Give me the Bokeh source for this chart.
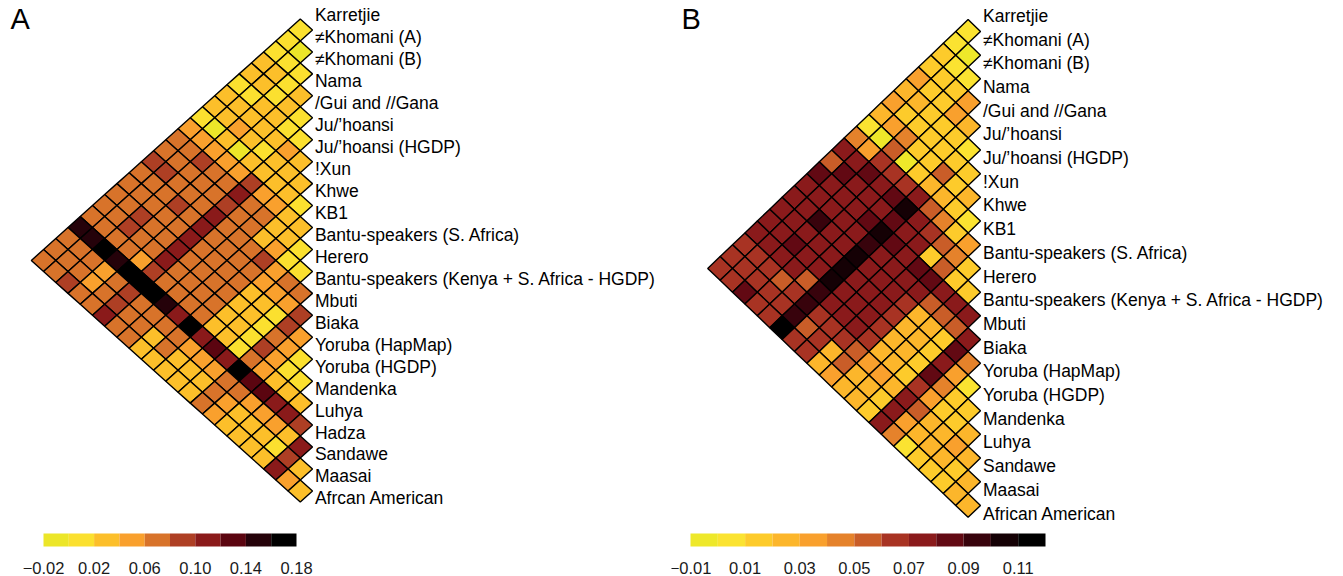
from bokeh.plotting import figure
from bokeh.layouts import row, column
from bokeh.models import Range1d, LinearColorMapper, ColumnDataSource, Label
from bokeh.core.properties import value
from bokeh.embed import file_html
from bokeh.resources import INLINE

# ---------------------------------------------------------------- data
pops_a = ["Karretjie", "\u2260Khomani (A)", "\u2260Khomani (B)", "Nama", "/Gui and //Gana",
          "Ju/\u2019hoansi", "Ju/\u2019hoansi (HGDP)", "!Xun", "Khwe", "KB1",
          "Bantu-speakers (S. Africa)", "Herero", "Bantu-speakers (Kenya + S. Africa - HGDP)",
          "Mbuti", "Biaka", "Yoruba (HapMap)", "Yoruba (HGDP)", "Mandenka", "Luhya",
          "Hadza", "Sandawe", "Maasai", "Afrcan American"]

pops_b = ["Karretjie", "\u2260Khomani (A)", "\u2260Khomani (B)", "Nama", "/Gui and //Gana",
          "Ju/\u2019hoansi", "Ju/\u2019hoansi (HGDP)", "!Xun", "Khwe", "KB1",
          "Bantu-speakers (S. Africa)", "Herero", "Bantu-speakers (Kenya + S. Africa - HGDP)",
          "Mbuti", "Biaka", "Yoruba (HapMap)", "Yoruba (HGDP)", "Mandenka", "Luhya",
          "Sandawe", "Maasai", "African American"]

# pairwise values, row i holds population i against populations 0..i-1
vals_a = [
    [0.01],
    [0.01, -0.01],
    [0.01, 0.01, 0.01],
    [0.03, 0.03, 0.01, 0.03],
    [0.03, 0.03, 0.01, 0.03, 0.01],
    [0.01, 0.01, 0.03, 0.03, 0.01, 0.01],
    [0.03, 0.03, 0.03, 0.03, 0.03, 0.05, 0.03],
    [0.03, 0.03, 0.05, 0.03, 0.01, 0.03, 0.03, 0.03],
    [0.01, -0.01, 0.03, -0.01, 0.03, 0.03, 0.03, 0.03, 0.01],
    [0.05, 0.05, 0.05, 0.05, 0.05, 0.09, 0.05, 0.05, 0.03, 0.03],
    [0.07, 0.07, 0.09, 0.07, 0.07, 0.11, 0.07, 0.07, 0.03, 0.03, 0.01],
    [0.07, 0.07, 0.07, 0.07, 0.07, 0.09, 0.07, 0.07, 0.03, 0.05, 0.01, 0.01],
    [0.09, 0.09, 0.07, 0.07, 0.07, 0.11, 0.07, 0.07, 0.07, 0.09, 0.05, 0.07, 0.07],
    [0.07, 0.07, 0.07, 0.09, 0.07, 0.11, 0.07, 0.07, 0.07, 0.07, 0.05, 0.05, 0.05, 0.09],
    [0.07, 0.07, 0.07, 0.07, 0.07, 0.11, 0.07, 0.07, 0.07, 0.07, 0.03, 0.03, 0.01, 0.09, 0.05],
    [0.07, 0.07, 0.09, 0.07, 0.07, 0.11, 0.07, 0.07, 0.07, 0.07, 0.03, 0.03, 0.01, 0.07, 0.05, 0.01],
    [0.07, 0.07, 0.09, 0.07, 0.07, 0.11, 0.07, 0.07, 0.07, 0.07, 0.03, 0.03, 0.01, 0.09, 0.05, 0.01, 0.01],
    [0.07, 0.07, 0.07, 0.07, 0.05, 0.09, 0.07, 0.07, 0.07, 0.07, 0.03, 0.03, 0.01, 0.07, 0.05, 0.03, 0.03, 0.03],
    [0.15, 0.15, 0.17, 0.15, 0.17, 0.17, 0.17, 0.15, 0.11, 0.17, 0.11, 0.13, 0.11, 0.17, 0.13, 0.13, 0.11, 0.11, 0.09],
    [0.07, 0.07, 0.07, 0.05, 0.07, 0.09, 0.07, 0.07, 0.07, 0.07, 0.05, 0.05, 0.05, 0.07, 0.07, 0.05, 0.05, 0.05, 0.03, 0.11],
    [0.07, 0.07, 0.07, 0.05, 0.07, 0.09, 0.07, 0.07, 0.03, 0.07, 0.03, 0.03, 0.03, 0.07, 0.05, 0.03, 0.03, 0.03, 0.01, 0.09, 0.03],
    [0.07, 0.07, 0.09, 0.07, 0.07, 0.11, 0.07, 0.07, 0.03, 0.03, 0.03, 0.03, 0.03, 0.07, 0.05, 0.03, 0.03, 0.03, 0.03, 0.11, 0.05, 0.03],
]

vals_b = [
    [0.005],
    [0.005, -0.005],
    [0.015, 0.005, 0.005],
    [0.015, 0.015, 0.015, 0.035],
    [0.035, 0.015, 0.015, 0.035, 0.025],
    [0.025, 0.025, 0.015, 0.015, 0.015, 0.005],
    [0.035, 0.015, 0.015, 0.015, 0.015, 0.015, 0.015],
    [0.025, 0.035, 0.045, 0.015, 0.015, 0.055, 0.015, 0.025],
    [0.005, -0.005, 0.055, -0.005, 0.015, 0.025, 0.025, 0.015, 0.005],
    [0.045, 0.035, 0.065, 0.065, 0.065, 0.075, 0.055, 0.045, 0.015, 0.035],
    [0.075, 0.075, 0.085, 0.075, 0.085, 0.105, 0.075, 0.065, 0.055, 0.045, 0.015],
    [0.055, 0.085, 0.075, 0.075, 0.075, 0.085, 0.075, 0.075, 0.015, 0.055, 0.015, 0.015],
    [0.085, 0.075, 0.075, 0.075, 0.085, 0.105, 0.085, 0.075, 0.085, 0.085, 0.075, 0.075, 0.075],
    [0.075, 0.075, 0.075, 0.075, 0.075, 0.095, 0.075, 0.075, 0.075, 0.075, 0.055, 0.055, 0.055, 0.075],
    [0.075, 0.075, 0.095, 0.075, 0.075, 0.105, 0.075, 0.075, 0.075, 0.065, 0.025, 0.025, 0.015, 0.085, 0.045],
    [0.075, 0.075, 0.075, 0.075, 0.075, 0.105, 0.075, 0.075, 0.075, 0.065, 0.025, 0.025, 0.015, 0.075, 0.035, 0.005],
    [0.075, 0.075, 0.085, 0.075, 0.075, 0.105, 0.075, 0.075, 0.075, 0.065, 0.025, 0.025, 0.015, 0.085, 0.045, 0.015, 0.015],
    [0.075, 0.075, 0.075, 0.075, 0.055, 0.095, 0.075, 0.075, 0.075, 0.065, 0.025, 0.025, 0.015, 0.065, 0.035, 0.015, 0.015, 0.025],
    [0.065, 0.065, 0.065, 0.055, 0.065, 0.095, 0.065, 0.065, 0.065, 0.055, 0.035, 0.035, 0.025, 0.075, 0.055, 0.025, 0.025, 0.035, 0.025],
    [0.065, 0.065, 0.065, 0.065, 0.065, 0.095, 0.055, 0.065, 0.025, 0.055, 0.025, 0.025, 0.015, 0.075, 0.035, 0.025, 0.025, 0.025, 0.015, 0.025],
    [0.065, 0.065, 0.085, 0.065, 0.065, 0.115, 0.065, 0.065, 0.025, 0.035, 0.025, 0.025, 0.015, 0.075, 0.045, 0.005, 0.015, 0.015, 0.015, 0.025, 0.025],
]

# colour scales (one colour per bin) and their tick labels
breaks_a = [-0.02, 0.0, 0.02, 0.04, 0.06, 0.08, 0.10, 0.12, 0.14, 0.16, 0.18]
palette_a = ["#ECE629", "#FBE02F", "#FCBF2A", "#F9A02D", "#D8732A",
             "#AE3F24", "#8A1A1A", "#5B0510", "#25020A", "#000000"]
ticks_a = [-0.02, 0.02, 0.06, 0.10, 0.14, 0.18]
tick_labels_a = ["\u22120.02", "0.02", "0.06", "0.10", "0.14", "0.18"]

breaks_b = [-0.01, 0.0, 0.01, 0.02, 0.03, 0.04, 0.05, 0.06, 0.07, 0.08, 0.09, 0.10, 0.11, 0.12]
palette_b = ["#EEE82A", "#FBE331", "#FDCB2B", "#FCB62B", "#F9A02D", "#E5822B", "#C95D28",
             "#A83323", "#8A1A1B", "#620913", "#38030C", "#150105", "#000000"]
ticks_b = [-0.01, 0.01, 0.03, 0.05, 0.07, 0.09, 0.11]
tick_labels_b = ["\u22120.01", "0.01", "0.03", "0.05", "0.07", "0.09", "0.11"]

FONT = "Liberation Sans"
MAP_H = 530
BAR_H = 46


def bare(p):
    p.axis.visible = False
    p.grid.visible = False
    p.outline_line_color = None
    p.background_fill_color = "white"
    p.border_fill_color = "white"
    return p


def triangle(pops, rows, breaks, palette, width, x_right, step_x, step_y, top, letter):
    xs, ys, vs = [], [], []
    for i, r in enumerate(rows, start=1):
        for j, v in enumerate(r):
            cx = -(i - j) / 2.0
            cy = (i + j) / 2.0
            xs.append([cx - 0.5, cx, cx + 0.5, cx])
            ys.append([cy, cy - 0.5, cy, cy + 0.5])
            vs.append(v)
    p = bare(figure(width=width, height=MAP_H, output_backend="svg", toolbar_location=None,
                    min_border=0,
                    x_range=Range1d(-x_right / step_x, (width - x_right) / step_x),
                    y_range=Range1d((MAP_H - top) / step_y, -top / step_y)))
    mapper = LinearColorMapper(palette=palette, low=breaks[0], high=breaks[-1])
    src = ColumnDataSource(dict(xs=xs, ys=ys, v=vs))
    p.patches("xs", "ys", source=src, fill_color={"field": "v", "transform": mapper},
              line_color="black", line_width=1.4)
    p.text(x=[0.1] * len(pops), y=[k - 0.16 for k in range(len(pops))], text=pops,
           text_font=value(FONT), text_font_size="17.5px", text_color="black",
           text_align="left", text_baseline="middle")
    p.add_layout(Label(x=10, y=MAP_H - 34, x_units="screen", y_units="screen", text=letter,
                       text_font=FONT, text_font_size="29px", text_color="black"))
    return p


def colour_bar(breaks, palette, ticks, labels, width, x0, x1):
    span = breaks[-1] - breaks[0]
    scale = (x1 - x0) / span
    start = breaks[0] - x0 / scale
    p = bare(figure(width=width, height=BAR_H, output_backend="svg", toolbar_location=None,
                    min_border=0, x_range=Range1d(start, start + width / scale),
                    y_range=Range1d(BAR_H, 0)))
    p.quad(left=breaks[:-1], right=breaks[1:], top=3, bottom=16, fill_color=palette,
           line_color=None)
    p.text(x=ticks, y=[37] * len(ticks), text=labels, text_font=value(FONT),
           text_font_size="16.5px", text_color="#1a1a1a", text_align="center",
           text_baseline="alphabetic")
    return p


map_a = triangle(pops_a, vals_a, breaks_a, palette_a, 671, 312, 24.45, 21.95, 18.5, "A")
map_b = triangle(pops_b, vals_b, breaks_b, palette_b, 672, 309, 24.8, 23.7, 19.1, "B")
bar_a = colour_bar(breaks_a, palette_a, ticks_a, tick_labels_a, 671, 43, 296)
bar_b = colour_bar(breaks_b, palette_b, ticks_b, tick_labels_b, 672, 19, 374)

page = row(column(map_a, bar_a, spacing=0), column(map_b, bar_b, spacing=0), spacing=0)
open("out.html", "w").write(file_html(page, INLINE))
